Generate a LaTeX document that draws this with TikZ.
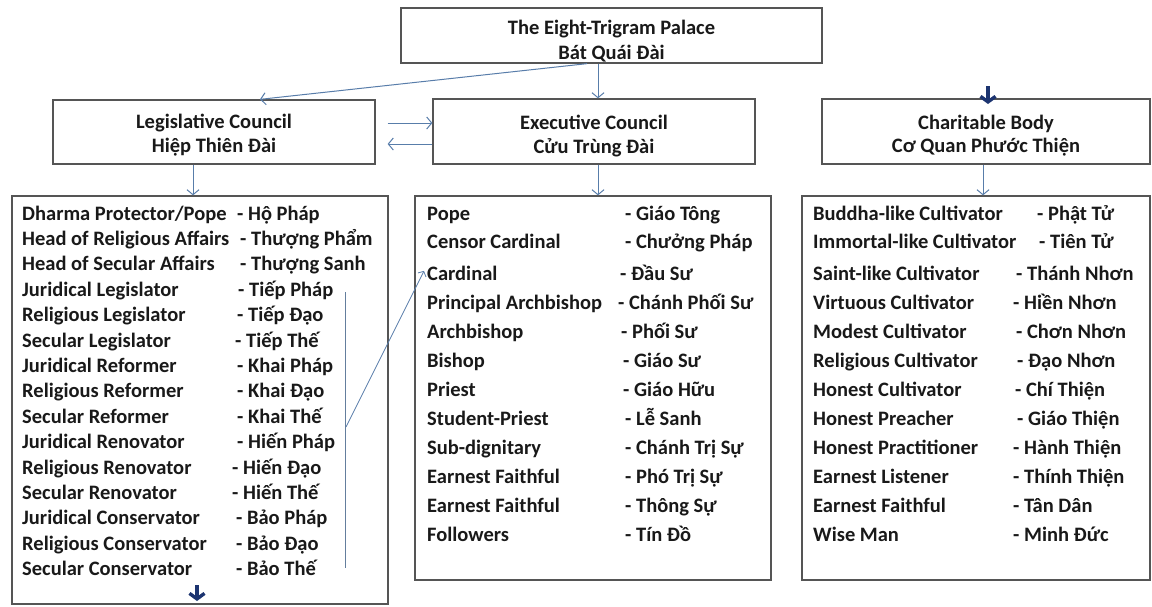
\documentclass[tikz,border=0pt]{standalone}
\usepackage{fontspec}
\setmainfont{Carlito}
\usetikzlibrary{arrows.meta}
\definecolor{arrowblue}{RGB}{88,125,170}
\definecolor{navyblue}{RGB}{28,52,112}
\definecolor{boxgray}{RGB}{85,85,85}
\definecolor{txtcol}{RGB}{25,25,25}
\tikzset{
  boxnode/.style={draw=boxgray, line width=1.3pt, inner sep=0pt, fill=white},
  lbl/.style={anchor=base, inner sep=0pt, text=txtcol, font=\bfseries\fontsize{20.5}{24}\selectfont},
  item/.style={anchor=base west, inner sep=0pt, text=txtcol, font=\bfseries\fontsize{20.5}{24}\selectfont},
  conn/.style={draw=arrowblue, line width=1pt, -{Straight Barb[length=5pt,width=12pt]}},
  thinconn/.style={draw=arrowblue, line width=0.8pt, -{Straight Barb[length=4pt,width=9pt]}},
  bracketline/.style={draw=arrowblue!70!gray, line width=0.8pt},
  navyarrow/.style={draw=navyblue, line width=3.4pt, -{Straight Barb[length=5.5pt,width=15pt]}}
}
\begin{document}
\begin{tikzpicture}[x=1pt,y=-1pt]
\useasboundingbox[fill=white] (0,0) rectangle (1152,606);

% header boxes
\node[boxnode, minimum width=421pt, minimum height=55pt] (top) at (611.5,35.5) {};
\node[boxnode, minimum width=322pt, minimum height=64pt] (leg) at (214,132) {};
\node[boxnode, minimum width=322pt, minimum height=65pt] (exec) at (594,131.5) {};
\node[boxnode, minimum width=328pt, minimum height=65pt] (char) at (986,131.5) {};

% list boxes
\node[boxnode, minimum width=376pt, minimum height=408pt] (leftlist) at (200,400) {};
\node[boxnode, minimum width=356pt, minimum height=384pt] (midlist) at (593,388) {};
\node[boxnode, minimum width=348pt, minimum height=384pt] (rightlist) at (976,388) {};

% header texts
\node[lbl] (topA) at (611.5,34) {The Eight-Trigram Palace};
\node[lbl] (topB) at (611.5,59) {Bát Quái Đài};
\node[lbl] (legA) at (214,128) {Legislative Council};
\node[lbl] (legB) at (214,152) {Hiệp Thiên Đài};
\node[lbl] (execA) at (594,129) {Executive Council};
\node[lbl] (execB) at (594,153) {Cửu Trùng Đài};
\node[lbl] (charA) at (986,129) {Charitable Body};
\node[lbl] (charB) at (986,152) {Cơ Quan Phước Thiện};

% left list
\foreach \i/\en/\vx/\vn [count=\k from 0] in {
  l0/Dharma Protector\slash Pope/237/Hộ Pháp,
  l1/Head of Religious Affairs/240/Thượng Phẩm,
  l2/Head of Secular Affairs/240/Thượng Sanh,
  l3/Juridical Legislator/238/Tiếp Pháp,
  l4/Religious Legislator/237/Tiếp Đạo,
  l5/Secular Legislator/235/Tiếp Thế,
  l6/Juridical Reformer/237/Khai Pháp,
  l7/Religious Reformer/237/Khai Đạo,
  l8/Secular Reformer/237/Khai Thế,
  l9/Juridical Renovator/237/Hiến Pháp,
  l10/Religious Renovator/232/Hiến Đạo,
  l11/Secular Renovator/232/Hiến Thế,
  l12/Juridical Conservator/236/Bảo Pháp,
  l13/Religious Conservator/236/Bảo Đạo,
  l14/Secular Conservator/236/Bảo Thế}{
  \node[item] (\i) at (22,{220+25.4*\k}) {\en};
  \node[item] (\i v) at (\vx,{220+25.4*\k}) {- \vn};
}

% middle list
\foreach \i/\en/\vx/\vy/\vn in {
  m0/Pope/625/220/Giáo Tông,
  m1/Censor Cardinal/625/248/Chưởng Pháp,
  m2/Cardinal/620/280/Đầu Sư,
  m3/Principal Archbishop/618/309/Chánh Phối Sư,
  m4/Archbishop/621/338/Phối Sư,
  m5/Bishop/623/367/Giáo Sư,
  m6/Priest/623/396/Giáo Hữu,
  m7/Student-Priest/625/425/Lễ Sanh,
  m8/Sub-dignitary/625/454/Chánh Trị Sự,
  m9/Earnest Faithful/625/483/Phó Trị Sự,
  m10/Earnest Faithful/625/512/Thông Sự,
  m11/Followers/625/541/Tín Đồ}{
  \node[item] (\i) at (427,\vy) {\en};
  \node[item] (\i v) at (\vx,\vy) {- \vn};
}

% right list
\foreach \i/\en/\vx/\vy/\vn in {
  r0/Buddha-like Cultivator/1037/220/Phật Tử,
  r1/Immortal-like Cultivator/1039/248/Tiên Tử,
  r2/Saint-like Cultivator/1016/280/Thánh Nhơn,
  r3/Virtuous Cultivator/1013/309/Hiền Nhơn,
  r4/Modest Cultivator/1016/338/Chơn Nhơn,
  r5/Religious Cultivator/1017/367/Đạo Nhơn,
  r6/Honest Cultivator/1015/396/Chí Thiện,
  r7/Honest Preacher/1017/425/Giáo Thiện,
  r8/Honest Practitioner/1013/454/Hành Thiện,
  r9/Earnest Listener/1013/483/Thính Thiện,
  r10/Earnest Faithful/1013/512/Tân Dân,
  r11/Wise Man/1013/541/Minh Đức}{
  \node[item] (\i) at (813,\vy) {\en};
  \node[item] (\i v) at (\vx,\vy) {- \vn};
}

% connectors
\draw[conn] ([xshift=-13.5pt]top.south) -- ([xshift=4pt]exec.north);
\draw[conn] ([xshift=-24.5pt]top.south) -- ([xshift=46pt]leg.north);
\draw[conn] ([xshift=12pt,yshift=9pt]leg.east) -- ([yshift=8.5pt]exec.west);
\draw[conn] ([yshift=-12.5pt]exec.west) -- ([xshift=12pt,yshift=-12pt]leg.east);
\draw[conn] ([xshift=-21pt]leg.south) -- ([xshift=-7pt]leftlist.north);
\draw[conn] ([xshift=4pt]exec.south) -- ([xshift=5pt]midlist.north);
\draw[conn] ([xshift=-3pt]char.south) -- ([xshift=7pt]rightlist.north);

% bracket from legislators to Cardinal
\coordinate (b1) at (345,292);
\coordinate (b2) at (345,568);
\coordinate (b3) at (346,427);
\draw[bracketline] (b1) -- (b2);
\draw[thinconn] (b3) -- ([xshift=-3pt,yshift=2pt]m2.west);

% dark blue arrows
\coordinate (n1) at (988,86);
\coordinate (n2) at (988,104);
\coordinate (n3) at (197,585);
\coordinate (n4) at (197,601);
\draw[navyarrow] (n1) -- (n2);
\draw[navyarrow] (n3) -- (n4);
\end{tikzpicture}
\end{document}
